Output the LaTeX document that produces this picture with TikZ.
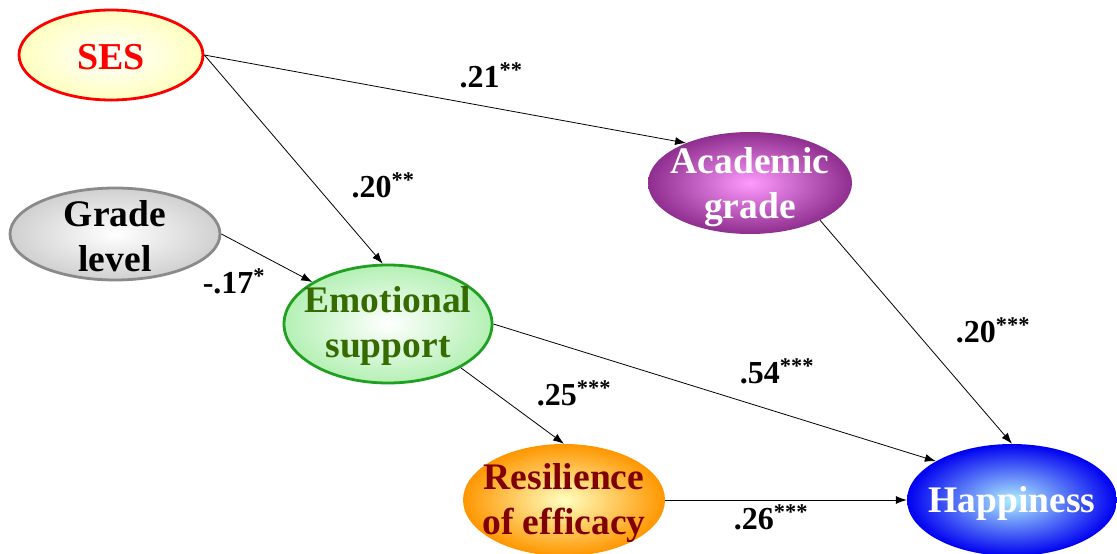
\documentclass[tikz,border=0pt]{standalone}
\usepackage{fontspec}
\setmainfont{Liberation Serif}
\usetikzlibrary{arrows.meta,shapes.geometric}
\definecolor{sesred}{HTML}{FF0000}
\definecolor{sesfill}{HTML}{FFFFC0}
\definecolor{grayfill}{HTML}{D0D0D0}
\definecolor{grayline}{HTML}{8A8A8A}
\definecolor{greenfill}{HTML}{B4F0B4}
\definecolor{greenline}{HTML}{20A020}
\definecolor{greentext}{HTML}{356B00}
\definecolor{purin}{HTML}{FF99FF}
\definecolor{purout}{HTML}{8E2E8E}
\definecolor{orin}{HTML}{FFFFC0}
\definecolor{orout}{HTML}{FF9600}
\definecolor{redtext}{HTML}{800000}
\definecolor{bluein}{HTML}{B0F0FF}
\definecolor{blueout}{HTML}{0000F0}
\begin{document}
\begin{tikzpicture}[x=1pt,y=-1pt,
  var/.style={ellipse,inner sep=0pt},
  vtext/.style={inner sep=0pt,align=center,font=\fontsize{37.5}{45}\selectfont\bfseries},
  coef/.style={anchor=base,inner sep=0pt,font=\fontsize{32}{36}\selectfont\bfseries},
  path/.style={line width=0.8pt,-{Latex[length=11pt,width=8pt]}}]
\useasboundingbox (0,0) rectangle (1117,554);
\node[var,minimum width=184pt,minimum height=90pt,inner color=white,outer color=sesfill,
  draw=sesred,line width=2.8pt] (ses) at (111,55) {};
\node[var,minimum width=210pt,minimum height=92pt,inner color=white,outer color=grayfill,
  draw=grayline,line width=2.8pt] (grade) at (115,234) {};
\node[var,minimum width=208pt,minimum height=118pt,inner color=white,outer color=greenfill,
  draw=greenline,line width=2.8pt] (emo) at (388,324) {};
\node[var,minimum width=204pt,minimum height=102pt,inner color=purin,outer color=purout] (acad) at (750,183) {};
\node[var,minimum width=202pt,minimum height=112pt,inner color=orin,outer color=orout] (resil) at (564,500) {};
\node[var,minimum width=210pt,minimum height=112pt,inner color=bluein,outer color=blueout] (happy) at (1012,500) {};

\node[vtext,text=sesred,font=\fontsize{38}{45}\selectfont\bfseries] (sesT) at (111,57) {SES};
\node[vtext] (gradeT) at (115,236) {Grade\\level};
\node[vtext,text=greentext] (emoT) at (388,326) {Emotional\\support};
\node[vtext,text=white] (acadT) at (750,187) {Academic\\grade};
\node[vtext,text=redtext] (resilT) at (564,503) {Resilience\\of efficacy};
\node[vtext,text=white] (happyT) at (1012,503) {Happiness};

\draw[path] (ses.east) -- (acad.148);
\draw[path] (ses.east) -- (emo.95);
\draw[path] (grade.east) -- (emo.151);
\draw[path] (emo.east) -- (happy.153);
\draw[path] (emo.-31) -- (resil.north);
\draw[path] (acad.-28) -- (happy.north);
\draw[path] (resil.east) -- (happy.west);

\node[coef] (l1) at (491,87) {.21\textsuperscript{**}};
\node[coef] (l2) at (383,197) {.20\textsuperscript{**}};
\node[coef] (l3) at (234,293) {-.17\textsuperscript{*}};
\node[coef] (l4) at (574,405) {.25\textsuperscript{***}};
\node[coef] (l5) at (777,383) {.54\textsuperscript{***}};
\node[coef] (l6) at (993,342) {.20\textsuperscript{***}};
\node[coef] (l7) at (771,529) {.26\textsuperscript{***}};
\end{tikzpicture}
\end{document}
